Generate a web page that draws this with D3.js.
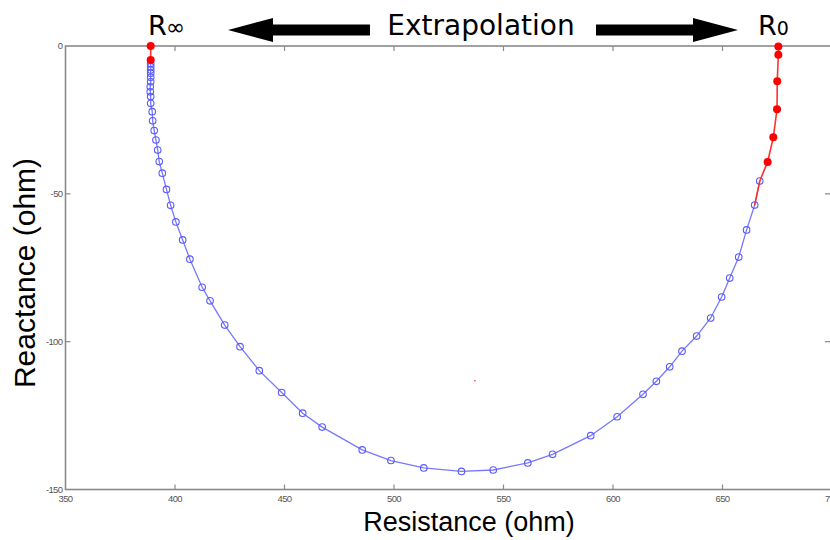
<!DOCTYPE html>
<html>
<head>
<meta charset="utf-8">
<script src="https://cdn.jsdelivr.net/npm/d3@7"></script>
<style>
body { margin: 0; background: #fff; }
svg { display: block; }
</style>
</head>
<body>
<svg id="chart" width="830" height="540"></svg>
<script>
// Measured impedance (blue) and extrapolated end points (red)
const measR = [388.9, 388.9, 388.9, 388.9, 388.9, 388.9, 388.7, 388.7, 388.9, 388.9,
	389.6, 389.8, 390.5, 391.3, 392.1, 392.8, 394.2, 396.1, 398.0, 400.4,
	403.5, 406.8, 412.4, 416.0, 422.7, 429.7, 438.5, 448.7, 458.3, 467.2,
	485.5, 498.6, 513.6, 530.8, 545.3, 561.1, 572.4, 589.8, 601.9, 613.7,
	619.8, 625.9, 631.5, 638.2, 644.6, 649.6, 653.3, 657.4, 661.0, 664.7, 667.0];
const measX = [-5.9, -7.0, -8.1, -9.2, -10.6, -12.1, -13.8, -15.5, -17.1, -19.4,
	-22.2, -25.3, -28.6, -31.8, -35.2, -39.1, -43.0, -48.5, -53.9, -59.5,
	-65.6, -72.1, -81.6, -86.2, -94.4, -101.7, -109.8, -117.2, -124.2, -128.9,
	-136.6, -140.2, -142.7, -143.9, -143.4, -141.0, -138.1, -131.8, -125.4, -117.8,
	-113.4, -108.5, -103.2, -98.1, -92.0, -84.9, -78.5, -71.4, -62.2, -53.8, -45.7];

const extLeftR = [388.9, 388.9];
const extLeftX = [0, -4.7];
const extRightR = [675.5, 675.5, 675.0, 674.9, 673.2, 670.6];
const extRightX = [-0.2, -3.0, -11.9, -21.4, -30.9, -39.2];
// the fitted red line runs on through the first measured points
const fitTailR = [667.0, 664.7];
const fitTailX = [-45.7, -53.8];

const xTicks = [350, 400, 450, 500, 550, 600, 650, 700];
const yTicks = [0, -50, -100, -150];

const svg = d3.select("#chart");

const x = d3.scaleLinear().domain([350, 700]).range([65.5, 832]);
const y = d3.scaleLinear().domain([-150, 0]).range([489.5, 46]);

const axisColor = "#8a8a8a",
	  tickLen = 5;

// Frame
const frame = svg.append("g").attr("class", "frame");
frame.append("rect")
	.attr("x", x(350)).attr("y", y(0))
	.attr("width", x(700) - x(350)).attr("height", y(-150) - y(0))
	.attr("fill", "none").attr("stroke", axisColor).attr("stroke-width", 1.6);

// Inward ticks, matlab style
xTicks.slice(1, -1).forEach(t => {
	frame.append("line").attr("x1", x(t)).attr("x2", x(t))
		.attr("y1", y(0)).attr("y2", y(0) + tickLen)
		.attr("stroke", axisColor).attr("stroke-width", 1.2);
	frame.append("line").attr("x1", x(t)).attr("x2", x(t))
		.attr("y1", y(-150)).attr("y2", y(-150) - tickLen)
		.attr("stroke", axisColor).attr("stroke-width", 1.2);
});
yTicks.slice(1, -1).forEach(t => {
	frame.append("line").attr("x1", x(350)).attr("x2", x(350) + tickLen)
		.attr("y1", y(t)).attr("y2", y(t))
		.attr("stroke", axisColor).attr("stroke-width", 1.2);
	frame.append("line").attr("x1", 830).attr("x2", 830 - tickLen)
		.attr("y1", y(t)).attr("y2", y(t))
		.attr("stroke", axisColor).attr("stroke-width", 1.2);
});

// Tick labels
svg.append("g").selectAll("text")
	.data(xTicks).enter().append("text")
	.attr("x", d => x(d)).attr("y", y(-150) + 12)
	.attr("text-anchor", "middle")
	.style("font-family", "Liberation Sans, Arial, sans-serif")
	.style("font-size", "9.5px").style("letter-spacing", "-0.6px")
	.attr("fill", "#555")
	.text(d => d);

svg.append("g").selectAll("text")
	.data(yTicks).enter().append("text")
	.attr("x", x(350) - 3).attr("y", d => y(d) + 3)
	.attr("text-anchor", "end")
	.style("font-family", "Liberation Sans, Arial, sans-serif")
	.style("font-size", "9.5px").style("letter-spacing", "-0.6px")
	.attr("fill", "#555")
	.text(d => d);

// Axis titles
svg.append("text")
	.attr("x", 469).attr("y", 531)
	.attr("text-anchor", "middle")
	.style("font-family", "Liberation Sans, Arial, sans-serif")
	.style("font-size", "27px")
	.text("Resistance (ohm)");

svg.append("text")
	.attr("transform", "translate(35,273) rotate(-90)")
	.attr("text-anchor", "middle")
	.style("font-family", "Liberation Sans, Arial, sans-serif")
	.style("font-size", "30px")
	.text("Reactance (ohm)");

// Lines
const line = d3.line().x(d => x(d[0])).y(d => y(d[1]));
const measured = measR.map((r, i) => [r, measX[i]]);
const left = extLeftR.map((r, i) => [r, extLeftX[i]]);
const right = extRightR.map((r, i) => [r, extRightX[i]])
	.concat(fitTailR.map((r, i) => [r, fitTailX[i]]));

svg.append("path").datum(measured).attr("d", line)
	.attr("fill", "none").attr("stroke", "#7878ff").attr("stroke-width", 1.3);

svg.selectAll(".meas").data(measured).enter().append("circle")
	.attr("class", "meas")
	.attr("cx", d => x(d[0])).attr("cy", d => y(d[1])).attr("r", 3.3)
	.attr("fill", "none").attr("stroke", "#5a5aff").attr("stroke-width", 1.1);

[left, right].forEach(pts => {
	svg.append("path").datum(pts).attr("d", line)
		.attr("fill", "none").attr("stroke", "#ff3030").attr("stroke-width", 1.6);
});

svg.selectAll(".ext").data(left.concat(right.slice(0, extRightR.length))).enter()
	.append("circle").attr("class", "ext")
	.attr("cx", d => x(d[0])).attr("cy", d => y(d[1])).attr("r", 4)
	.attr("fill", "#ff0000");

// stray red pixel in the original
svg.append("rect").attr("x", x(536.9) - 0.5).attr("y", y(-113.2) - 0.5)
	.attr("width", 1.2).attr("height", 1.2).attr("fill", "#ff0000");

// Header: end-point labels and arrows
const header = svg.append("g")
	.style("font-family", "DejaVu Sans, Verdana, sans-serif");

const rInf = header.append("text").attr("x", 148).attr("y", 35).style("font-size", "27px");
rInf.append("tspan").text("R");
rInf.append("tspan").style("font-size", "23px").attr("dx", -1).text("\u221E");

const rZero = header.append("text").attr("x", 758).attr("y", 35).style("font-size", "27px");
rZero.append("tspan").text("R");
rZero.append("tspan").style("font-size", "19px").text("0");

header.append("text").attr("x", 481).attr("y", 35)
	.attr("text-anchor", "middle").style("font-size", "28px")
	.text("Extrapolation");

// arrows
const arrowY = 30;
header.append("path")
	.attr("d", `M228,${arrowY} L273,${arrowY - 12} L273,${arrowY - 5.5} L370,${arrowY - 5.5} L370,${arrowY + 5.5} L273,${arrowY + 5.5} L273,${arrowY + 12} Z`)
	.attr("fill", "#000");
header.append("path")
	.attr("d", `M738,${arrowY} L693,${arrowY - 12} L693,${arrowY - 5.5} L596,${arrowY - 5.5} L596,${arrowY + 5.5} L693,${arrowY + 5.5} L693,${arrowY + 12} Z`)
	.attr("fill", "#000");
</script>
</body>
</html>
